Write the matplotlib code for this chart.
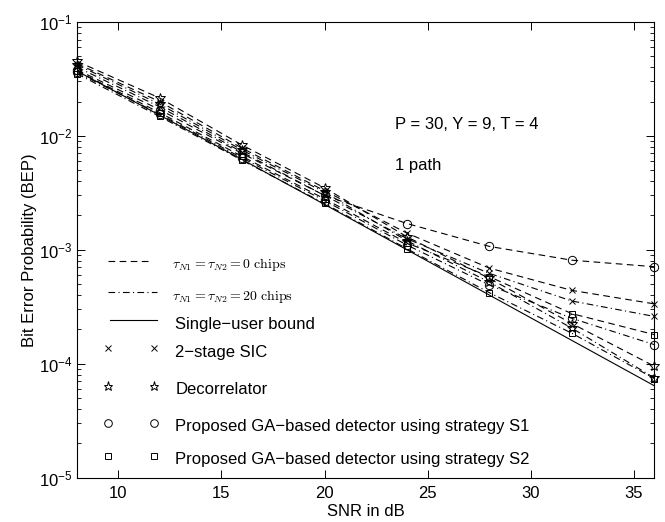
import matplotlib
matplotlib.use("Agg")
import matplotlib.pyplot as plt
from matplotlib.font_manager import FontProperties
from matplotlib.ticker import LogLocator, NullFormatter

plt.rcParams["font.family"] = ["Liberation Sans", "DejaVu Sans"]
plt.rcParams["mathtext.fontset"] = "custom"
plt.rcParams["mathtext.rm"] = "Liberation Sans"
plt.rcParams["mathtext.it"] = "Liberation Sans:italic"
plt.rcParams["mathtext.bf"] = "Liberation Sans:bold"

# SNR grid (dB)
snr = [8, 12, 16, 20, 24, 28, 32, 36]

# single-user bound
bound = [3.7e-2, 1.52e-2, 6.2e-3, 2.5e-3, 1.0e-3, 4.0e-4, 1.6e-4, 6.4e-5]

# tau_N1 = tau_N2 = 0 chips (dashed)
sic_0 = [4.3e-2, 2.0e-2, 7.8e-3, 3.3e-3, 1.4e-3, 6.9e-4, 4.4e-4, 3.35e-4]
dec_0 = [4.5e-2, 2.15e-2, 8.3e-3, 3.5e-3, 1.3e-3, 5.6e-4, 2.25e-4, 9.5e-5]
s1_0 = [3.8e-2, 1.7e-2, 7.0e-3, 3.0e-3, 1.7e-3, 1.07e-3, 8.1e-4, 7.1e-4]
s2_0 = [3.7e-2, 1.6e-2, 6.6e-3, 2.8e-3, 1.15e-3, 5.8e-4, 2.75e-4, 1.8e-4]

# tau_N1 = tau_N2 = 20 chips (dash-dot)
sic_20 = [4.0e-2, 1.8e-2, 7.2e-3, 3.0e-3, 1.25e-3, 6.2e-4, 3.55e-4, 2.6e-4]
dec_20 = [4.2e-2, 1.9e-2, 7.5e-3, 3.2e-3, 1.2e-3, 5.2e-4, 2.05e-4, 7.5e-5]
s1_20 = [3.6e-2, 1.55e-2, 6.4e-3, 2.7e-3, 1.1e-3, 4.9e-4, 2.5e-4, 1.47e-4]
s2_20 = [3.5e-2, 1.48e-2, 6.1e-3, 2.55e-3, 1.02e-3, 4.2e-4, 1.85e-4, 7.4e-5]

dashed = (0, (6, 4))
dashdot = (0, (6, 3, 1, 3))
lw = 0.8

fig = plt.figure(figsize=(6.65, 5.22), dpi=100)
ax = fig.add_axes([0.116, 0.085, 0.868, 0.873])

series = [
    (sic_0, "x", dashed), (dec_0, "*", dashed), (s1_0, "o", dashed), (s2_0, "s", dashed),
    (sic_20, "x", dashdot), (dec_20, "*", dashdot), (s1_20, "o", dashdot), (s2_20, "s", dashdot),
]
msize = {"x": 5, "*": 7, "o": 6, "s": 5}
for vals, m, ls in series:
    ax.plot(snr, vals, color="black", linestyle=ls, linewidth=lw, marker=m,
            markersize=msize[m], markerfacecolor="none", markeredgewidth=0.7, clip_on=False)
ax.plot(snr, bound, color="black", linestyle="-", linewidth=lw)

ax.set_yscale("log")
ax.set_xlim(8, 36)
ax.set_ylim(1e-5, 1e-1)
ax.set_xticks([10, 15, 20, 25, 30, 35])
ax.yaxis.set_minor_locator(LogLocator(base=10, subs=range(2, 10)))
ax.yaxis.set_minor_formatter(NullFormatter())
ax.tick_params(which="both", direction="in", top=True, right=True, labelsize=12)
ax.tick_params(axis="x", pad=6)
ax.tick_params(which="major", length=6, width=0.7)
ax.tick_params(which="minor", length=3, width=0.6)
for s in ax.spines.values():
    s.set_linewidth(0.8)

ax.set_xlabel("SNR in dB", fontsize=12, labelpad=2)
ax.set_ylabel("Bit Error Probability (BEP)", fontsize=12, labelpad=1)

ax.text(0.551, 0.774, "P = 30, Y = 9, T = 4", transform=ax.transAxes, fontsize=12, va="center")
ax.text(0.551, 0.686, "1 path", transform=ax.transAxes, fontsize=12, va="center")

# hand-made legend (axes coordinates)
def fx(px):
    return (px - 77) / 577.0

def fy(py):
    return (477.7 - py) / 456.0

cm = FontProperties(family="DejaVu Serif", size=10)
cm.set_math_fontfamily("cm")
ax.plot([fx(108), fx(150)], [fy(261), fy(261)], transform=ax.transAxes, color="black",
        linestyle=dashed, linewidth=lw)
ax.text(fx(172), fy(264), r"$\tau_{N1} = \tau_{N2} = 0\ \mathrm{chips}$", transform=ax.transAxes,
        fontproperties=cm, va="center")
ax.plot([fx(108), fx(157)], [fy(292), fy(292)], transform=ax.transAxes, color="black",
        linestyle=dashdot, linewidth=lw)
ax.text(fx(172), fy(296), r"$\tau_{N1} = \tau_{N2} = 20\ \mathrm{chips}$", transform=ax.transAxes,
        fontproperties=cm, va="center")
ax.plot([fx(110), fx(157)], [fy(320), fy(320)], transform=ax.transAxes, color="black",
        linestyle="-", linewidth=lw)
ax.text(fx(175), fy(324), "Single\u2212user bound", transform=ax.transAxes, fontsize=12, va="center")

rows = [
    ("x", 348, "2\u2212stage SIC"),
    ("*", 386, "Decorrelator"),
    ("o", 423, "Proposed GA\u2212based detector using strategy S1"),
    ("s", 456, "Proposed GA\u2212based detector using strategy S2"),
]
for m, py, label in rows:
    ax.plot([fx(108), fx(154)], [fy(py), fy(py)], transform=ax.transAxes, color="black",
            linestyle="none", marker=m, markersize=msize[m] - 0.5, markerfacecolor="none",
            markeredgewidth=0.7)
    ax.text(fx(175), fy(py + 4), label, transform=ax.transAxes, fontsize=12, va="center")

fig.savefig("out.png", dpi=100)
